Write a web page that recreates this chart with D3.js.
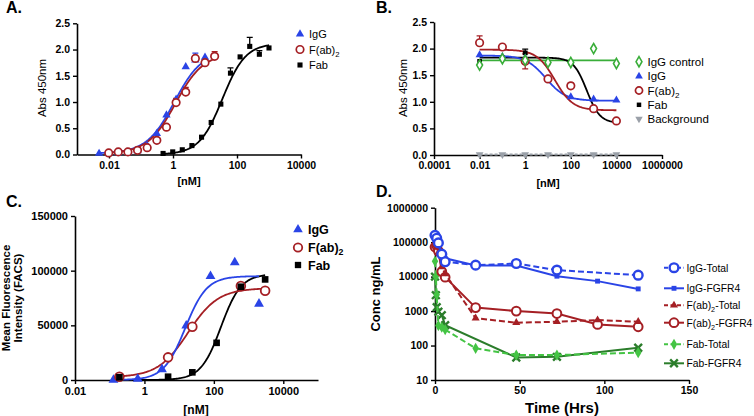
<!DOCTYPE html>
<html>
<head>
<meta charset="utf-8">
<script src="https://d3js.org/d3.v7.min.js"></script>
<style>
body { margin: 0; background: #fff; }
svg { display: block; font-family: "Liberation Sans", Arial, sans-serif; }
</style>
</head>
<body>
<svg id="fig" width="754" height="416"></svg>
<script>
// ---- panel A : ELISA binding ----
var aIgGx = [0.0049,0.0098,0.0195,0.039,0.078,0.156,0.3125,0.625,1.25,2.5,5,10];
var aIgGy = [0.02,0.02,0.03,0.04,0.07,0.17,0.40,0.75,1.05,1.67,1.80,1.85];
var aIgGe = [0,0,0,0,0,0,0,0,0,0,0.13,0];
var aF2x  = [0.0098,0.0195,0.039,0.078,0.156,0.3125,0.625,1.25,2.5,5,10,20];
var aF2y  = [0.03,0.05,0.05,0.08,0.13,0.27,0.52,0.99,1.19,1.83,1.75,1.87];
var aF2e  = [0,0,0,0,0,0,0,0.08,0.09,0,0,0.09];
var aFabx = [0.49,0.98,1.95,3.9,7.8,15.6,31.25,62.5,125,250,500,1000];
var aFaby = [0.02,0.05,0.09,0.17,0.33,0.61,0.96,1.55,1.86,2.06,1.91,2.03];
var aFabe = [0,0,0,0,0,0,0,0.1,0,0.17,0.07,0];
// fit: [value at low x, value at high x, midpoint, slope, x from, x to]
var aIgGfit = [0.02,1.98,1.1,1.0,0.0049,10];
var aF2fit  = [0.02,1.93,1.2,1.0,0.0098,20];
var aFabfit = [0,2.12,35,1.2,0.49,1000];

// ---- panel B : competition ----
var bX    = [0.01,0.1,1,10,100,1000,10000];
var bCtrl = [1.69,1.81,1.78,1.74,1.74,2.0,1.72];
var bIgG  = [1.88,1.85,1.82,1.43,1.09,1.05,1.03];
var bF2   = [2.11,2.03,1.76,1.43,1.30,0.87,0.64];
var bF2e  = [0.13,0,0.14,0,0.05,0,0];
var bF2lo = [0,0,-0.14,0,0,0,0];
var bFab  = [1.76,1.83,1.92,1.73,1.73,0.87,0.64];
var bFabe = [0,0,0.07,0,0,0,0];
var bBg   = [0.01,0.01,0.01,0.01,0.01,0.01,0.01];
var bCtrlfit = [1.78,1.78,100,1,0.01,10000];
var bIgGfit  = [1.87,1.02,8,1.0,0.01,10000];
var bF2fit   = [1.98,0.84,20,1.1,0.01,10000];
var bFabfit  = [1.83,0.6,500,1.5,0.01,10000];

// ---- panel C : FACS ----
var cIgGx = [0.128,0.64,3.2,16,80,400,2000];
var cIgGy = [0,900,9800,49600,95000,107600,69700];
var cF2x  = [0.19,4.8,24,600,3000];
var cF2y  = [3000,20700,48700,85900,81600];
var cFabx = [0.19,4.8,24,120,600,3000];
var cFaby = [2500,3000,7000,34000,85300,92000];
var cIgGfit = [0,95000,15,1.4,0.128,2000];
var cF2fit  = [2500,84000,18,1.0,0.19,3000];
var cFabfit = [0,97000,160,1.5,0.19,3000];

// ---- panel D : PK ----
var dIgGTotT = [0,1,2,4,6,24,48,72,120];
var dIgGTot  = [158000,130000,95000,45000,27000,21500,24000,15500,11000];
var dIgGRecT = [0,1,2,4,6,24,48,72,96,120];
var dIgGRec  = [115000,100000,80000,50000,34000,21000,21000,10300,7400,4400];
var dF2TotT  = [0,1,2,4,6,24,48,72,96,120];
var dF2Tot   = [82000,70000,50000,19000,12000,620,460,490,550,490];
var dF2RecT  = [0,1,2,4,6,24,48,72,96,120];
var dF2Rec   = [72000,80000,55000,14000,9600,1260,1000,850,410,350];
var dFabTotT = [0,0.5,1,2,4,6,24,48,72,120];
var dFabTot  = [28000,10000,3000,380,340,290,83,53,53,62];
var dFabRecT = [0,0.5,1,2,4,6,48,72,120];
var dFabRec  = [10000,2900,1300,960,760,390,45,47,86];

var blue = "#2a44e6", red = "#a51f24", green = "#3aae3a", lime = "#44c444", dkgreen = "#2b7d2b", grey = "#9aa0a8";
var svg = d3.select("#fig");

function axes(x, y, o) {
  var gx = svg.append("g").attr("transform", "translate(0," + y.range()[0] + ")")
    .call(d3.axisBottom(x).tickValues(o.xt).tickFormat(o.xf).tickSize(4).tickSizeOuter(0));
  var gy = svg.append("g").attr("transform", "translate(" + x.range()[0] + ",0)")
    .call(d3.axisLeft(y).tickValues(o.yt).tickFormat(o.yf).tickSize(4).tickSizeOuter(0));
  [gx, gy].forEach(function(g) {
    g.attr("font-size", o.fs).attr("font-family", "Liberation Sans, Arial, sans-serif").attr("font-weight", "bold");
    g.select(".domain").attr("stroke-width", 1.6);
    g.selectAll(".tick line").attr("stroke-width", 1.4);
  });
}

function fit(x, y, p, color, dash) {
  var pts = d3.range(0, 121).map(function(i) {
    var xv = p[4] * Math.pow(p[5] / p[4], i / 120);
    return [xv, p[0] + (p[1] - p[0]) / (1 + Math.pow(p[2] / xv, p[3]))];
  });
  svg.append("path").datum(pts)
    .attr("d", d3.line().x(function(d){ return x(d[0]); }).y(function(d){ return y(d[1]); }))
    .attr("fill", "none").attr("stroke", color).attr("stroke-width", 1.8)
    .attr("stroke-dasharray", dash || null);
}

function errs(x, y, xs, ys, es, color) {
  xs.forEach(function(xv, i) {
    if (!es[i]) return;
    var px = x(xv), y0 = y(ys[i]), y1 = y(ys[i] + es[i]);
    svg.append("path").attr("d", "M" + px + "," + y0 + "V" + y1 + "M" + (px - 3) + "," + y1 + "H" + (px + 3))
      .attr("stroke", color).attr("stroke-width", 1.3).attr("fill", "none");
  });
}

function marks(x, y, xs, ys, m) {
  svg.append("g").selectAll("path").data(xs).enter().append("path")
    .attr("d", d3.symbol().type(m.type).size(m.size))
    .attr("transform", function(d, i) { return "translate(" + x(d) + "," + y(ys[i]) + ")" + (m.rot ? " rotate(" + m.rot + ")" : ""); })
    .attr("fill", m.fill).attr("stroke", m.stroke || "none").attr("stroke-width", m.sw || 0);
}

function line(x, y, xs, ys, color, dash) {
  svg.append("path").datum(xs)
    .attr("d", d3.line().x(function(d){ return x(d); }).y(function(d, i){ return y(ys[i]); }))
    .attr("fill", "none").attr("stroke", color).attr("stroke-width", 2).attr("stroke-dasharray", dash || null);
}

function label(txt, px, py, o) {
  var t = svg.append("text").attr("x", px).attr("y", py).attr("font-size", o.fs)
    .attr("font-weight", o.bold ? "bold" : "normal").attr("text-anchor", o.anchor || "start");
  if (o.rot) t.attr("transform", "rotate(-90," + px + "," + py + ")").attr("dominant-baseline", "middle");
  var parts = txt.split("_");
  t.append("tspan").text(parts[0]);
  if (parts.length > 1) {
    t.append("tspan").text(parts[1]).attr("font-size", o.fs * 0.7).attr("dy", 3);
    if (parts[2]) t.append("tspan").text(parts[2]).attr("dy", -3);
  }
  return t;
}

function legendMark(px, py, m) {
  svg.append("path").attr("d", d3.symbol().type(m.type).size(m.size))
    .attr("transform", "translate(" + px + "," + py + ")" + (m.rot ? " rotate(" + m.rot + ")" : ""))
    .attr("fill", m.fill).attr("stroke", m.stroke || "none").attr("stroke-width", m.sw || 0);
}

var tri = function(c, s) { return {type: d3.symbolTriangle, size: s, fill: c}; };
var sq  = function(c, s) { return {type: d3.symbolSquare, size: s, fill: c}; };
var ring = function(c, s, w) { return {type: d3.symbolCircle, size: s, fill: "#fff", stroke: c, sw: w}; };
var fmtNum = function(d) { return String(d); };

// ===== A =====
(function() {
  var x = d3.scaleLog().domain([0.001, 10000]).range([77, 301]);
  var y = d3.scaleLinear().domain([0, 2.5]).range([154.5, 23.3]);
  axes(x, y, {xt: [0.01, 1, 100, 10000], xf: fmtNum, yt: [0, 0.5, 1, 1.5, 2, 2.5], yf: d3.format(".1f"), fs: 10.5});
  errs(x, y, aFabx, aFaby, aFabe, "#000");
  errs(x, y, aIgGx, aIgGy, aIgGe, blue);
  errs(x, y, aF2x, aF2y, aF2e, red);
  fit(x, y, aFabfit, "#000");
  fit(x, y, aIgGfit, blue);
  fit(x, y, aF2fit, red);
  marks(x, y, aFabx, aFaby, sq("#000", 26));
  marks(x, y, aIgGx, aIgGy, tri(blue, 30));
  marks(x, y, aF2x, aF2y, ring(red, 44, 1.7));
  legendMark(300, 34, tri(blue, 30));
  legendMark(300, 49.5, ring(red, 44, 1.7));
  legendMark(300, 65, sq("#000", 26));
  label("IgG", 309, 38, {fs: 11});
  label("F(ab)_2", 309, 53.5, {fs: 11});
  label("Fab", 309, 69, {fs: 11});
  label("Abs 450nm", 43, 88, {fs: 11.5, rot: true, anchor: "middle"});
  label("[nM]", 189, 185, {fs: 11, bold: true, anchor: "middle"});
  label("A.", 6, 13, {fs: 16, bold: true});
})();

// ===== B =====
(function() {
  var x = d3.scaleLog().domain([0.0001, 1000000]).range([434, 662]);
  var y = d3.scaleLinear().domain([0, 2.5]).range([155, 22]);
  axes(x, y, {xt: [0.0001, 0.01, 1, 100, 10000, 1000000], xf: fmtNum, yt: [0, 0.5, 1, 1.5, 2, 2.5], yf: d3.format(".1f"), fs: 10.5});
  line(x, y, bX, bBg, grey, "3,2");
  errs(x, y, bX, bF2, bF2e, red);
  errs(x, y, bX, bFab, bFabe, "#000");
  errs(x, y, bX, bF2, bF2lo, red);
  fit(x, y, bCtrlfit, green);
  fit(x, y, bFabfit, "#000");
  fit(x, y, bIgGfit, blue);
  fit(x, y, bF2fit, red);
  marks(x, y, bX, bBg, {type: d3.symbolTriangle, size: 26, fill: grey, rot: 180});
  marks(x, y, bX, bFab, sq("#000", 22));
  marks(x, y, bX, bIgG, tri(blue, 28));
  marks(x, y, bX, bF2, ring(red, 44, 1.7));
  marks(x, y, bX, bCtrl, {type: d3.symbolDiamond, size: 30, fill: "#fff", stroke: green, sw: 1.6});
  var rows = [61.7, 76.2, 90.5, 104.8, 119];
  legendMark(639, rows[0], {type: d3.symbolDiamond, size: 30, fill: "#fff", stroke: green, sw: 1.6});
  legendMark(639, rows[1], tri(blue, 26));
  legendMark(639, rows[2], ring(red, 40, 1.7));
  legendMark(639, rows[3], sq("#000", 20));
  legendMark(639, rows[4], {type: d3.symbolTriangle, size: 24, fill: grey, rot: 180});
  ["IgG control", "IgG", "F(ab)_2", "Fab", "Background"].forEach(function(t, i) {
    label(t, 647.5, rows[i] + 4, {fs: 11.5});
  });
  label("Abs 450nm", 404, 88, {fs: 11.5, rot: true, anchor: "middle"});
  label("[nM]", 548, 187, {fs: 11, bold: true, anchor: "middle"});
  label("B.", 376, 13, {fs: 16, bold: true});
})();

// ===== C =====
(function() {
  var x = d3.scaleLog().domain([0.01, 100000]).range([75, 318]);
  var y = d3.scaleLinear().domain([0, 150000]).range([380, 216]);
  axes(x, y, {xt: [0.01, 1, 100, 10000], xf: fmtNum, yt: [0, 50000, 100000, 150000], yf: fmtNum, fs: 11});
  fit(x, y, cFabfit, "#000");
  fit(x, y, cF2fit, red);
  fit(x, y, cIgGfit, blue);
  marks(x, y, cIgGx, cIgGy, tri(blue, 42));
  marks(x, y, cF2x, cF2y, ring(red, 60, 1.8));
  marks(x, y, cFabx, cFaby, sq("#000", 44));
  legendMark(298, 229.5, tri(blue, 40));
  legendMark(298, 247.5, ring(red, 56, 1.8));
  legendMark(298, 265, sq("#000", 40));
  label("IgG", 308, 234, {fs: 12.5, bold: true});
  label("F(ab)_2", 308, 252, {fs: 12.5, bold: true});
  label("Fab", 308, 269.5, {fs: 12.5, bold: true});
  label("Mean Fluorescence", 7, 298, {fs: 11.5, bold: true, rot: true, anchor: "middle"});
  label("Intensity (FACS)", 19, 298, {fs: 11.5, bold: true, rot: true, anchor: "middle"});
  label("[nM]", 196, 414, {fs: 12, bold: true, anchor: "middle"});
  label("C.", 6, 207, {fs: 16, bold: true});
})();

// ===== D =====
(function() {
  var x = d3.scaleLinear().domain([0, 150]).range([435, 689]);
  var y = d3.scaleLog().domain([10, 1000000]).range([380, 207.7]);
  axes(x, y, {xt: [0, 50, 100, 150], xf: fmtNum, yt: [10, 100, 1000, 10000, 100000, 1000000], yf: fmtNum, fs: 10.5});
  var series = [
    {t: dFabRecT, v: dFabRec, c: dkgreen, dash: null, m: {type: d3.symbolTimes || d3.symbolX, size: 40, fill: "none", stroke: dkgreen, sw: 2.4}},
    {t: dFabTotT, v: dFabTot, c: lime, dash: "6,3", m: {type: d3.symbolDiamond, size: 36, fill: lime}},
    {t: dF2RecT, v: dF2Rec, c: red, dash: null, m: ring(red, 60, 2)},
    {t: dF2TotT, v: dF2Tot, c: red, dash: "6,3", m: tri(red, 28)},
    {t: dIgGRecT, v: dIgGRec, c: blue, dash: null, m: sq(blue, 24)},
    {t: dIgGTotT, v: dIgGTot, c: blue, dash: "6,3", m: ring(blue, 60, 2.4)}
  ];
  series.forEach(function(s) {
    line(x, y, s.t, s.v, s.c, s.dash);
    marks(x, y, s.t, s.v, s.m);
  });
  var names = ["IgG-Total", "IgG-FGFR4", "F(ab)_2_-Total", "F(ab)_2_-FGFR4", "Fab-Total", "Fab-FGFR4"];
  var rows = [267.7, 288.3, 305.3, 322.7, 344.3, 363.3];
  var order = [5, 4, 3, 2, 1, 0];
  order.forEach(function(si, i) {
    var s = series[si];
    svg.append("path").attr("d", "M664," + rows[i] + "H684")
      .attr("stroke", s.c).attr("stroke-width", 2).attr("stroke-dasharray", s.dash ? "4,2.5" : null);
    legendMark(674, rows[i], s.m);
    label(names[i], 686.5, rows[i] + 4, {fs: 10.3});
  });
  label("Conc ng/mL", 377, 294, {fs: 13, bold: true, rot: true, anchor: "middle"});
  label("Time (Hrs)", 562, 413, {fs: 15, bold: true, anchor: "middle"});
  label("D.", 376, 197, {fs: 16, bold: true});
})();
</script>
</body>
</html>
